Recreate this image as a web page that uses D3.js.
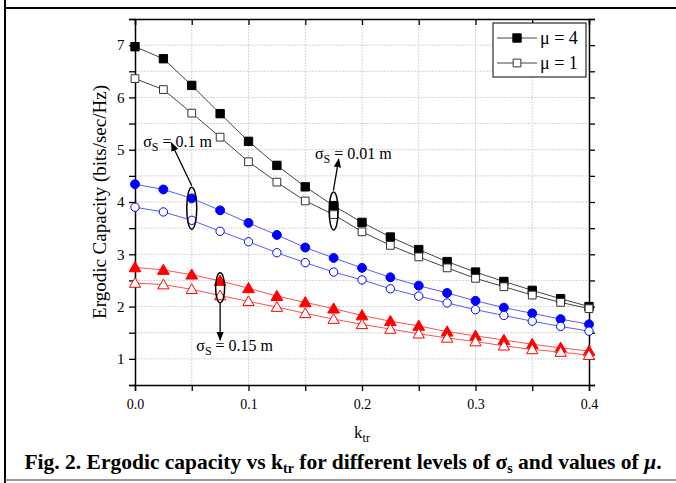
<!DOCTYPE html>
<html>
<head>
<meta charset="utf-8">
<script src="https://cdn.jsdelivr.net/npm/d3@7"></script>
<style>
  body { margin: 0; background: #fff; }
  text { font-family: "Liberation Serif", "Times New Roman", serif; }
</style>
</head>
<body>
<div id="chart"></div>
<script>
const ktr = [0, 0.025, 0.05, 0.075, 0.1, 0.125, 0.15, 0.175, 0.2, 0.225, 0.25, 0.275, 0.3, 0.325, 0.35, 0.375, 0.4];

// sigma_s = 0.01 m
const sq4 = [6.97, 6.74, 6.23, 5.69, 5.16, 4.70, 4.29, 3.93, 3.61, 3.33, 3.09, 2.86, 2.66, 2.48, 2.31, 2.15, 2.00];
const sq1 = [6.36, 6.15, 5.70, 5.24, 4.77, 4.38, 4.02, 3.76, 3.43, 3.17, 2.95, 2.74, 2.54, 2.38, 2.22, 2.08, 1.96];
// sigma_s = 0.1 m
const ci4 = [4.34, 4.24, 4.07, 3.84, 3.60, 3.37, 3.13, 2.93, 2.74, 2.56, 2.40, 2.26, 2.11, 1.98, 1.87, 1.76, 1.66];
const ci1 = [3.90, 3.81, 3.65, 3.44, 3.24, 3.03, 2.84, 2.66, 2.51, 2.34, 2.20, 2.07, 1.94, 1.83, 1.72, 1.62, 1.53];
// sigma_s = 0.15 m
const tr4 = [2.75, 2.70, 2.61, 2.49, 2.35, 2.20, 2.08, 1.96, 1.83, 1.72, 1.63, 1.52, 1.44, 1.36, 1.28, 1.21, 1.15];
const tr1 = [2.45, 2.42, 2.33, 2.21, 2.10, 1.99, 1.87, 1.76, 1.66, 1.57, 1.48, 1.40, 1.33, 1.25, 1.18, 1.13, 1.07];

const xTicks = [0, 0.1, 0.2, 0.3, 0.4];
const yTicks = [1, 2, 3, 4, 5, 6, 7];
const legendLabels = ["\u03bc = 4", "\u03bc = 1"];

const width = 676;
const height = 483;
const margin = {left: 135, right: 87, top: 19, bottom: 98};

const svg = d3.select("#chart")
    .append("svg")
        .attr("width", width)
        .attr("height", height);

const x = d3.scaleLinear().domain([0, 0.4]).range([margin.left, width - margin.right]);
const y = d3.scaleLinear().domain([0.5, 7.5]).range([height - margin.bottom, margin.top]);

// page frame
svg.append("line").attr("x1", 5).attr("x2", 5).attr("y1", 0).attr("y2", height)
    .attr("stroke", "#000").attr("stroke-width", 2);
svg.append("line").attr("x1", 5).attr("x2", width).attr("y1", 8).attr("y2", 8)
    .attr("stroke", "#000").attr("stroke-width", 2);
svg.append("line").attr("x1", 5).attr("x2", width).attr("y1", 480).attr("y2", 480)
    .attr("stroke", "#777").attr("stroke-width", 1.5);

// grid
const gx = d3.range(0.05, 0.4, 0.05);
const gy = d3.range(1, 7.5, 0.5);
svg.append("g").selectAll("line").data(gx).enter().append("line")
    .attr("x1", d => x(d)).attr("x2", d => x(d))
    .attr("y1", y.range()[0]).attr("y2", y.range()[1])
    .attr("stroke", "#d4d4d4").attr("stroke-dasharray", "2,1");
svg.append("g").selectAll("line").data(gy).enter().append("line")
    .attr("x1", x.range()[0]).attr("x2", x.range()[1])
    .attr("y1", d => y(d)).attr("y2", d => y(d))
    .attr("stroke", "#d4d4d4").attr("stroke-dasharray", "2,1");

// axes
const xMinor = d3.range(0, 0.401, 0.05);
const yMinor = d3.range(0.5, 7.51, 0.5);

const xAxis = svg.append("g")
    .attr("transform", `translate(0, ${y.range()[0]})`)
    .call(d3.axisBottom(x).tickValues(xMinor).tickSize(6)
        .tickFormat(d => xTicks.some(t => Math.abs(t - d) < 1e-9) ? d3.format(".1f")(d) : ""));
xAxis.selectAll("text").attr("font-size", 14).attr("dy", "1.1em");

svg.append("g")
    .attr("transform", `translate(0, ${y.range()[1]})`)
    .call(d3.axisBottom(x).tickValues(xMinor).tickSize(6).tickFormat(""));

const yAxis = svg.append("g")
    .attr("transform", `translate(${x.range()[0]}, 0)`)
    .call(d3.axisLeft(y).tickValues(yMinor).tickSize(6)
        .tickFormat(d => yTicks.includes(d) ? d : ""));
yAxis.selectAll("text").attr("font-size", 15).attr("dx", "-0.1em");

svg.append("g")
    .attr("transform", `translate(${x.range()[1]}, 0)`)
    .call(d3.axisRight(y).tickValues(yMinor).tickSize(6).tickFormat(""));

svg.selectAll(".domain").attr("stroke", "#000").attr("stroke-width", 1.5);
svg.selectAll(".tick line").attr("stroke", "#000").attr("stroke-width", 1.3);

// series
const series = [
    {vals: sq4, line: "#444", color: "#000", shape: d3.symbolSquare, fill: true, size: 70},
    {vals: sq1, line: "#444", color: "#333", shape: d3.symbolSquare, fill: false, size: 60},
    {vals: ci4, line: "#5b5bff", color: "#0000ff", shape: d3.symbolCircle, fill: true, size: 62},
    {vals: ci1, line: "#5b5bff", color: "#0000ff", shape: d3.symbolCircle, fill: false, size: 55},
    {vals: tr4, line: "#ff5050", color: "#ff0000", shape: d3.symbolTriangle, fill: true, size: 60},
    {vals: tr1, line: "#ff5050", color: "#ff0000", shape: d3.symbolTriangle, fill: false, size: 55}
];

const line = d3.line().x((d, i) => x(ktr[i])).y(d => y(d));

series.forEach(s => {
    svg.append("path")
        .attr("d", line(s.vals))
        .attr("fill", "none")
        .attr("stroke", s.line)
        .attr("stroke-width", 1);
    svg.append("g").selectAll("path").data(s.vals).enter().append("path")
        .attr("d", d3.symbol().type(s.shape).size(s.size))
        .attr("transform", (d, i) => `translate(${x(ktr[i])}, ${y(d) + (s.shape === d3.symbolTriangle ? 1 : 0)})`)
        .attr("fill", s.fill ? s.color : "#fff")
        .attr("stroke", s.color)
        .attr("stroke-width", 1);
});

// annotations: ellipses + arrows
svg.append("defs").append("marker")
    .attr("id", "arr")
    .attr("viewBox", "0 0 10 10")
    .attr("refX", 9).attr("refY", 5)
    .attr("markerWidth", 7).attr("markerHeight", 7)
    .attr("orient", "auto")
  .append("path").attr("d", "M0,1 L10,5 L0,9 z").attr("fill", "#000");

const notes = [
    {k: 0.05, v: 3.88, rx: 5, ry: 21, from: [0.05, 4.31], to: [0.032, 5.13], label: [0.0072, 5.06], text: "0.1 m"},
    {k: 0.175, v: 3.83, rx: 4.5, ry: 19, from: [0.1748, 4.22], to: [0.1795, 4.82], label: [0.1585, 4.82], text: "0.01 m"},
    {k: 0.075, v: 2.36, rx: 4.5, ry: 15, from: [0.075, 2.07], to: [0.075, 1.36], label: [0.054, 1.15], text: "0.15 m"}
];

notes.forEach(n => {
    svg.append("ellipse")
        .attr("cx", x(n.k)).attr("cy", y(n.v))
        .attr("rx", n.rx).attr("ry", n.ry)
        .attr("fill", "none").attr("stroke", "#000").attr("stroke-width", 1.5);
    svg.append("line")
        .attr("x1", x(n.from[0])).attr("y1", y(n.from[1]))
        .attr("x2", x(n.to[0])).attr("y2", y(n.to[1]))
        .attr("stroke", "#000").attr("stroke-width", 1.3)
        .attr("marker-end", "url(#arr)");
    const t = svg.append("text")
        .attr("x", x(n.label[0])).attr("y", y(n.label[1]))
        .attr("font-size", 16);
    t.append("tspan").text("\u03c3");
    t.append("tspan").attr("font-size", 12).attr("dy", 4).text("S");
    t.append("tspan").attr("dy", -4).text(" = " + n.text);
});

// legend
const lg = svg.append("g").attr("transform", "translate(493, 23)");
lg.append("rect").attr("width", 93).attr("height", 54)
    .attr("fill", "#fff").attr("stroke", "#000").attr("stroke-width", 1);
legendLabels.forEach((lab, i) => {
    const s = series[i];
    const ly = 15 + i * 25;
    lg.append("line").attr("x1", 4).attr("x2", 44).attr("y1", ly).attr("y2", ly)
        .attr("stroke", s.line).attr("stroke-width", 1);
    lg.append("path").attr("d", d3.symbol().type(s.shape).size(s.size))
        .attr("transform", `translate(24, ${ly})`)
        .attr("fill", s.fill ? s.color : "#fff").attr("stroke", s.color);
    lg.append("text").attr("x", 47).attr("y", ly + 6)
        .attr("font-size", 18).text(lab);
});

// axis titles
svg.append("text")
    .attr("transform", `translate(106, ${(y.range()[0] + y.range()[1]) / 2}) rotate(-90)`)
    .attr("text-anchor", "middle")
    .attr("font-size", 19)
    .text("Ergodic Capacity (bits/sec/Hz)");

const xl = svg.append("text")
    .attr("x", x(0.2)).attr("y", 438)
    .attr("text-anchor", "middle")
    .attr("font-size", 17);
xl.append("tspan").text("k");
xl.append("tspan").attr("font-size", 12).attr("dy", 4).text("tr");

// caption
const cap = svg.append("text")
    .attr("x", 343).attr("y", 469)
    .attr("text-anchor", "middle")
    .attr("font-size", 21.5)
    .attr("font-weight", "bold");
cap.append("tspan").text("Fig. 2. Ergodic capacity vs k");
cap.append("tspan").attr("font-size", 14).attr("dy", 4).text("tr");
cap.append("tspan").attr("dy", -4).text(" for different levels of \u03c3");
cap.append("tspan").attr("font-size", 14).attr("dy", 4).text("s");
cap.append("tspan").attr("dy", -4).text(" and values of ");
cap.append("tspan").attr("font-style", "italic").text("\u03bc");
cap.append("tspan").text(".");
</script>
</body>
</html>
